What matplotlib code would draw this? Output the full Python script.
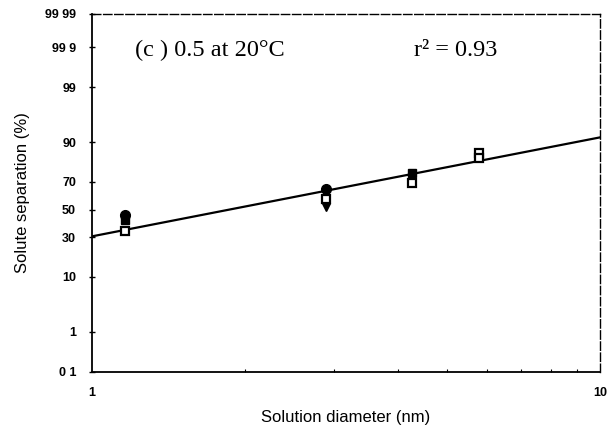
import numpy as np
import matplotlib
matplotlib.use("Agg")
import matplotlib.pyplot as plt
from statistics import NormalDist

# ---- data ----
y_ticks = [0.1, 1, 10, 30, 50, 70, 90, 99, 99.9, 99.99]
y_tick_labels = ["0 1", "1", "10", "30", "50", "70", "90", "99", "99 9", "99 99"]
x_ticks = [1, 10]
x_tick_labels = ["1", "10"]

filled_circle_x = [1.16, 2.89]
filled_circle_y = [45.8, 65.0]
filled_square_x = [1.16, 4.27]
filled_square_y = [42.0, 75.6]
open_square_x = [1.16, 2.89, 4.27, 5.78, 5.78]
open_square_y = [34.0, 58.0, 69.0, 86.0, 83.5]
filled_tri_x = [2.89]
filled_tri_y = [52.0]

fit_x = [1, 10]
fit_y = [30.5, 91.5]

# ---- probability scale ----
_nd = NormalDist()
_vinv = np.vectorize(_nd.inv_cdf, otypes=[float])
_vcdf = np.vectorize(_nd.cdf, otypes=[float])
def fwd(p):
    p = np.asarray(p, dtype=float)
    q = np.clip(p / 100.0, 1e-9, 1 - 1e-9)
    return _vinv(q)
def inv(z):
    z = np.asarray(z, dtype=float)
    return _vcdf(z) * 100.0

fig = plt.figure(figsize=(6.11, 4.36), dpi=100)
ax = fig.add_axes([92/611, 1 - 372/436, 508/611, 358/436])
ax.set_xscale("log")
ax.set_yscale("function", functions=(fwd, inv))
ax.set_xlim(1, 10)
ax.set_ylim(0.1, 99.99)

ax.plot(fit_x, fit_y, color="black", lw=1.6, zorder=2)
ax.plot(open_square_x, open_square_y, ls="none", marker="s", ms=6, mfc="white",
        mec="black", mew=1.6, zorder=3)
ax.plot(filled_square_x, filled_square_y, ls="none", marker="s", ms=6, color="black", zorder=4)
ax.plot(filled_circle_x, filled_circle_y, ls="none", marker="o", ms=7, color="black", zorder=4)
ax.plot(filled_tri_x, filled_tri_y, ls="none", marker="v", ms=6, color="black", zorder=4)

ax.set_yticks(y_ticks)
ax.set_yticklabels(y_tick_labels)
ax.yaxis.set_minor_locator(matplotlib.ticker.NullLocator())
ax.set_xticks(x_ticks)
ax.set_xticklabels(x_tick_labels)
ax.xaxis.set_minor_locator(matplotlib.ticker.LogLocator(subs=np.arange(2, 10)))
ax.xaxis.set_minor_formatter(matplotlib.ticker.NullFormatter())

for lab in ax.get_yticklabels() + ax.get_xticklabels():
    lab.set_fontfamily("Liberation Sans")
    lab.set_fontweight("bold")
    lab.set_fontsize(9)
ax.tick_params(axis="y", which="major", direction="inout", length=5, width=1, pad=9)
ax.tick_params(axis="x", which="major", direction="in", length=0, pad=11)
ax.tick_params(axis="x", which="minor", direction="in", length=2, width=0.8)

for s in ["left", "bottom"]:
    ax.spines[s].set_linewidth(1.3)
for s in ["top", "right"]:
    ax.spines[s].set_linewidth(1.0)
    ax.spines[s].set_linestyle((0, (6, 2)))

ax.set_ylabel("Solute separation (%)", fontfamily="Liberation Sans", fontsize=12, labelpad=11)
ax.set_xlabel("Solution diameter (nm)", fontfamily="Liberation Sans", fontsize=12, labelpad=8)

fig.text(135/611, 1 - 50/436, "(c ) 0.5 at 20°C", fontfamily="Liberation Serif",
         fontsize=17.5, va="center", ha="left")
fig.text(414/611, 1 - 50/436, "r² = 0.93", fontfamily="Liberation Serif",
         fontsize=17.5, va="center", ha="left")

fig.savefig("out.png", dpi=100)
